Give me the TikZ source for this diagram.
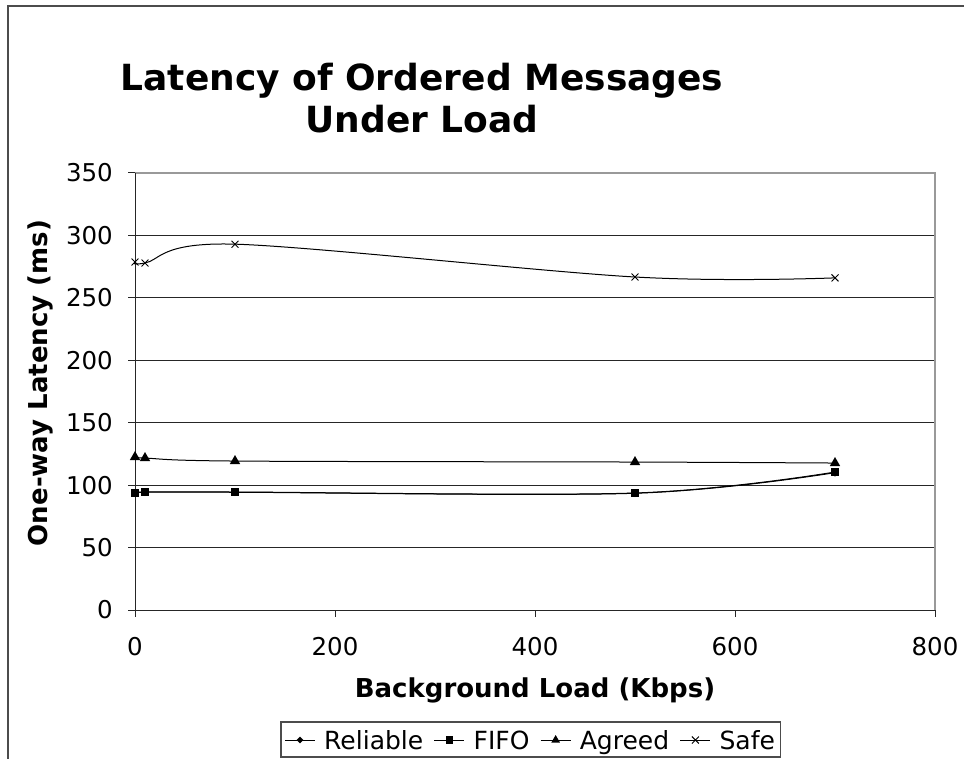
\documentclass[tikz,border=0pt]{standalone}
\usepackage{fontspec}
\setmainfont{DejaVu Sans}
\usetikzlibrary{shapes.geometric,shapes.misc,fit}

\tikzset{
  gridline/.style={line width=1pt, black!85},
  frameline/.style={line width=1.2pt, black!70},
  axisline/.style={line width=1pt, black!85},
  borderline/.style={line width=1.2pt, black!40},
  series/.style={line width=1pt, black, smooth, tension=0.55},
  mkrel/.style={diamond, fill=black, inner sep=0pt, minimum size=8pt},
  mkfifo/.style={rectangle, fill=black, inner sep=0pt, minimum size=8.5pt},
  mkagr/.style={regular polygon, regular polygon sides=3, fill=black, inner sep=0pt, minimum size=12pt},
  mksafe/.style={cross out, draw=black, line width=0.9pt, inner sep=0pt, minimum size=6pt},
  ticklabel/.style={font=\fontsize{24.5}{28}\selectfont, inner sep=0pt},
  axistitle/.style={font=\fontsize{26}{30}\selectfont\bfseries, inner sep=0pt},
  legtext/.style={font=\fontsize{25}{28}\selectfont, inner sep=0pt, anchor=base west},
  legline/.style={line width=1pt, black},
}

\begin{document}
\begin{tikzpicture}[x=1pt, y=-1pt]
\useasboundingbox (0,0) rectangle (964,759);
\fill[white] (0,0) rectangle (964,759);

% chart area frame (continues past the right and bottom edges)
\draw[frameline] (8,6) rectangle (1000,800);

% title
\node[font=\fontsize{36}{42}\selectfont\bfseries, align=center, inner sep=0pt]
  (title) at (422,98) {Latency of Ordered Messages\\Under Load};

% plot area: origin at (135,610), 1 px per Kbps, 437 px for 350 ms
\begin{scope}[shift={(135,610)}, x=1pt, y=1.248571pt]
  \foreach \v in {50,100,...,300}
    \draw[gridline] (0,\v) -- (800,\v);
  \draw[borderline] (0,350) -- (800,350) -- (800,0);
  \draw[axisline] (0,350) -- (0,0) -- (800,0);
  \foreach \v in {0,50,...,350} {
    \draw[axisline] (0,\v) -- ++(-7pt,0pt);
    \node[ticklabel, anchor=east] at ([xshift=-22pt]0,\v) {\v};
  }
  \foreach \v in {0,200,...,800} {
    \draw[axisline] (\v,0) -- ++(0pt,-7pt);
    \node[ticklabel] at ([yshift=-37pt]\v,0) {\v};
  }

  % data points
  \coordinate (r1) at (0,93.5);   \coordinate (r2) at (10,94.3);
  \coordinate (r3) at (100,94.3); \coordinate (r4) at (500,93.5);
  \coordinate (r5) at (700,110);
  \coordinate (f1) at (0,93.7);   \coordinate (f2) at (10,94.5);
  \coordinate (f3) at (100,94.5); \coordinate (f4) at (500,93.7);
  \coordinate (f5) at (700,110.5);
  \coordinate (a1) at (0,122.5);  \coordinate (a2) at (10,121.7);
  \coordinate (a3) at (100,119.3);\coordinate (a4) at (500,118.5);
  \coordinate (a5) at (700,117.7);
  \coordinate (s1) at (0,278.7);  \coordinate (s2) at (10,277.9);
  \coordinate (s3) at (100,293);  \coordinate (s4) at (500,266.7);
  \coordinate (s5) at (700,266);

  \draw[series] plot coordinates {(r1) (r2) (r3) (r4) (r5)};
  \draw[series] plot coordinates {(f1) (f2) (f3) (f4) (f5)};
  \draw[series] plot coordinates {(a1) (a2) (a3) (a4) (a5)};
  \draw[series] plot coordinates {(s1) (s2) (s3) (s4) (s5)};

  \foreach \p in {r1,r2,r3,r4,r5} \node[mkrel] at (\p) {};
  \foreach \p in {f1,f2,f3,f4,f5} \node[mkfifo] at (\p) {};
  \foreach \p in {a1,a2,a3,a4,a5} \node[mkagr] at (\p) {};
  \foreach \p in {s1,s2,s3,s4,s5} \node[mksafe] at (\p) {};
\end{scope}

% axis titles
\node[axistitle] (xtitle) at (535,690) {Background Load (Kbps)};
\node[axistitle, rotate=90] (ytitle) at (40,383) {One-way Latency (ms)};

% legend: sample line (30 px), gap, label, gap, next sample line
\coordinate (l1a) at (285,740); \coordinate (l1b) at (315,740);
\node[legtext] (t1) at (324,749) {Reliable};
\coordinate (l2a) at ([xshift=11pt]t1.east |- l1a); \coordinate (l2b) at ([xshift=41pt]t1.east |- l1a);
\node[legtext] (t2) at ([xshift=50pt]t1.base east) {FIFO};
\coordinate (l3a) at ([xshift=11pt]t2.east |- l1a); \coordinate (l3b) at ([xshift=41pt]t2.east |- l1a);
\node[legtext] (t3) at ([xshift=50pt]t2.base east) {Agreed};
\coordinate (l4a) at ([xshift=11pt]t3.east |- l1a); \coordinate (l4b) at ([xshift=41pt]t3.east |- l1a);
\node[legtext] (t4) at ([xshift=50pt]t3.base east) {Safe};
\draw[legline] (l1a) -- (l1b) node[midway, mkrel, minimum size=7pt] {};
\draw[legline] (l2a) -- (l2b) node[midway, mkfifo, minimum size=7.5pt] {};
\draw[legline] (l3a) -- (l3b) node[midway, mkagr, minimum size=10pt] {};
\draw[legline] (l4a) -- (l4b) node[midway, mksafe] {};
\coordinate (legne) at ([xshift=5pt]t4.east |- 0,722);
\draw[line width=1.2pt, black!70] (281,722) rectangle (legne |- 0,757);
\end{tikzpicture}
\end{document}
